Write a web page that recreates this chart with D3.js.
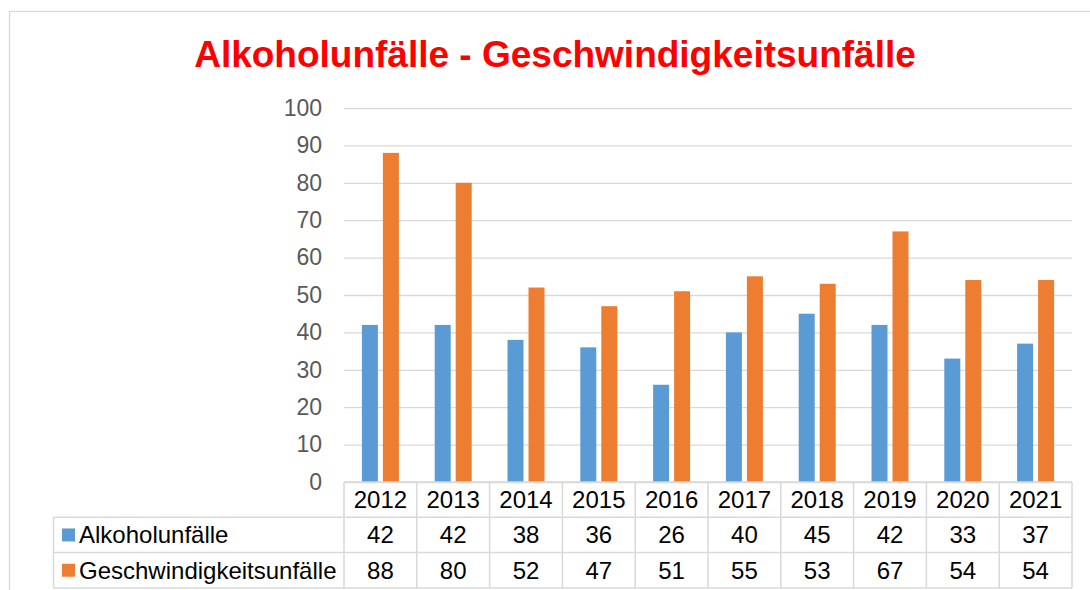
<!DOCTYPE html>
<html>
<head>
<meta charset="utf-8">
<script src="https://cdn.jsdelivr.net/npm/d3@7"></script>
<style>
  body { margin: 0; background: #fff; }
  text { font-family: "Liberation Sans", Arial, sans-serif; }
</style>
</head>
<body>
<div id="chart"></div>
<script>

var years = ["2012", "2013", "2014", "2015", "2016", "2017", "2018", "2019", "2020", "2021"];
var alkohol = [42, 42, 38, 36, 26, 40, 45, 42, 33, 37];
var tempo = [88, 80, 52, 47, 51, 55, 53, 67, 54, 54];
var seriesNames = ["Alkoholunfälle", "Geschwindigkeitsunfälle"];
var seriesColors = ["#5b9bd5", "#ed7d31"];
var yTicks = [0, 10, 20, 30, 40, 50, 60, 70, 80, 90, 100];

var width = 1090, height = 590;
var plot = {left: 344, right: 1072, top: 108, bottom: 482};
var rowH = 35.3;

var svg = d3.select("#chart").append("svg")
    .attr("width", width)
    .attr("height", height);

// outer chart frame
svg.append("rect")
    .attr("x", 9.5).attr("y", 11.5)
    .attr("width", 1100).attr("height", 600)
    .attr("fill", "#fff")
    .attr("stroke", "#d9d9d9")
    .attr("stroke-width", 1.3);

svg.append("text")
    .attr("x", 555).attr("y", 67)
    .attr("text-anchor", "middle")
    .attr("fill", "#ff0000")
    .style("font-size", "37px")
    .style("font-weight", "bold")
    .text("Alkoholunfälle - Geschwindigkeitsunfälle");

var x = d3.scaleBand()
    .domain(years)
    .range([plot.left, plot.right]);

var y = d3.scaleLinear()
    .domain([0, 100])
    .range([plot.bottom, plot.top]);

// gridlines + y labels
var yAxis = svg.append("g")
    .attr("transform", "translate(" + plot.left + ",0)")
    .call(d3.axisLeft(y).tickValues(yTicks).tickSize(-(plot.right - plot.left)).tickPadding(22));
yAxis.select(".domain").remove();
yAxis.selectAll(".tick line").attr("stroke", "#d9d9d9").attr("stroke-width", 1.3);
yAxis.selectAll(".tick text")
    .attr("fill", "#595959")
    .style("font-size", "23px")
    .style("font-family", "Liberation Sans, Arial, sans-serif");

// bars
var barW = 16, gap = 5;
var data = [alkohol, tempo];
data.forEach(function (vals, s) {
    svg.append("g").selectAll("rect")
        .data(vals)
        .enter()
        .append("rect")
        .attr("x", function (d, i) {
            var c = x(years[i]) + x.bandwidth() / 2;
            return s === 0 ? c - gap / 2 - barW : c + gap / 2;
        })
        .attr("y", function (d) { return y(d); })
        .attr("width", barW)
        .attr("height", function (d) { return y(0) - y(d); })
        .attr("fill", seriesColors[s]);
});

// data table
var tbl = svg.append("g");
var lineColor = "#d9d9d9";
var legLeft = 53.5;
var tBottom = plot.bottom + rowH * 3;

// horizontal lines
tbl.append("line").attr("x1", plot.left).attr("x2", plot.right)
    .attr("y1", plot.bottom).attr("y2", plot.bottom);
[1, 2, 3].forEach(function (r) {
    tbl.append("line").attr("x1", legLeft).attr("x2", plot.right)
        .attr("y1", plot.bottom + rowH * r).attr("y2", plot.bottom + rowH * r);
});
// vertical lines
years.forEach(function (yr) {
    tbl.append("line").attr("x1", x(yr)).attr("x2", x(yr))
        .attr("y1", plot.bottom).attr("y2", tBottom);
});
tbl.append("line").attr("x1", plot.right).attr("x2", plot.right)
    .attr("y1", plot.bottom).attr("y2", tBottom);
tbl.append("line").attr("x1", legLeft).attr("x2", legLeft)
    .attr("y1", plot.bottom + rowH).attr("y2", tBottom);
tbl.selectAll("line").attr("stroke", lineColor).attr("stroke-width", 1.5);

// year header
tbl.selectAll("text.year")
    .data(years)
    .enter()
    .append("text")
    .attr("class", "year")
    .attr("x", function (d) { return x(d) + x.bandwidth() / 2; })
    .attr("y", plot.bottom + rowH / 2 + 8.5)
    .attr("text-anchor", "middle")
    .style("font-size", "24px")
    .text(function (d) { return d; });

data.forEach(function (vals, s) {
    var rowY = plot.bottom + rowH * (s + 1);
    tbl.append("g").selectAll("text")
        .data(vals)
        .enter()
        .append("text")
        .attr("x", function (d, i) { return x(years[i]) + x.bandwidth() / 2; })
        .attr("y", rowY + rowH / 2 + 8.5)
        .attr("text-anchor", "middle")
        .style("font-size", "24px")
        .text(function (d) { return d; });

    tbl.append("rect")
        .attr("x", 62).attr("y", rowY + rowH / 2 - 6.5)
        .attr("width", 13).attr("height", 13)
        .attr("fill", seriesColors[s]);
    tbl.append("text")
        .attr("x", 79)
        .attr("y", rowY + rowH / 2 + 8.5)
        .style("font-size", "24px")
        .text(seriesNames[s]);
});

</script>
</body>
</html>
